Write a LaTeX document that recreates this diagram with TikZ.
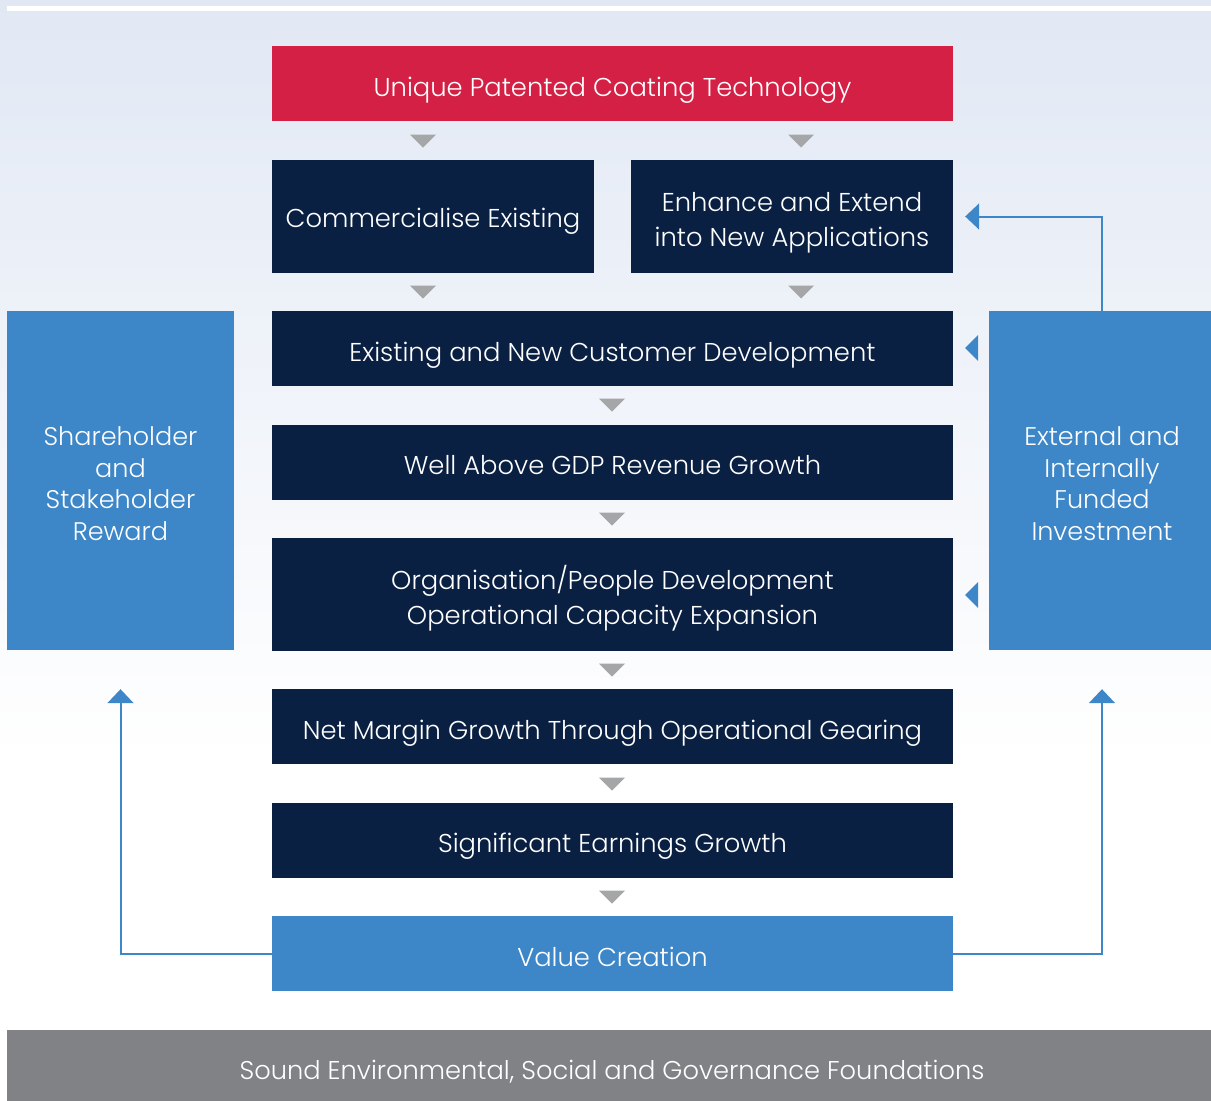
\documentclass[tikz,border=0pt]{standalone}
\usepackage{fontspec}
\setmainfont{Poppins Light}
\usetikzlibrary{arrows.meta,calc}
\definecolor{navy}{HTML}{0A2043}
\definecolor{midblue}{HTML}{3D87C8}
\definecolor{coral}{HTML}{D42045}
\definecolor{footgrey}{HTML}{818286}
\definecolor{tri}{HTML}{A5A6A8}
\definecolor{bgtop}{HTML}{E1E8F4}
\tikzset{
  caption/.style={text=white, inner sep=0pt, align=center,
    font=\fontsize{25.8}{35}\selectfont},
  sidecaption/.style={caption, font=\fontsize{25.5}{31.5}\selectfont},
  box/.style={fill=navy, inner sep=0pt},
  widebox/.style={box, minimum width=681pt, minimum height=75pt},
  halfbox/.style={box, minimum width=322pt, minimum height=113pt},
  sidebox/.style={fill=midblue, inner sep=0pt, minimum height=339pt},
  link/.style={draw=midblue, line width=2pt},
  tip/.style={-{Triangle[width=26pt,length=14pt]}, link},
}
\newcommand\downtri[2]{\fill[tri] (#1-13,#2-6.5) -- (#1+13,#2-6.5) -- (#1,#2+6.5) -- cycle;}
\newcommand\lefttri[2]{\fill[midblue] (#1-6.5,#2) -- (#1+6.5,#2-13) -- (#1+6.5,#2+13) -- cycle;}
\begin{document}
\begin{tikzpicture}[x=1pt,y=-1pt]
  % background with soft top shading
  \useasboundingbox (0,0) rectangle (1211,1101);
  \shade[top color=bgtop, bottom color=white] (0,0) rectangle (1211,760);
  \fill[white] (7,6) rectangle (1211,11);

  % main column
  \node[widebox, fill=coral, label={[caption, yshift=-7pt]center:Unique Patented Coating Technology}] (core) at (612.5,83.5) {};
  \node[halfbox, label={[caption, yshift=-4.5pt]center:Commercialise Existing}] (comm) at (433,216.5) {};
  \node[halfbox, label={[caption, yshift=-6pt]center:{Enhance and Extend\\into New Applications}}] (enh) at (792,216.5) {};
  \node[widebox, label={[caption, yshift=-7pt]center:Existing and New Customer Development}] (cust) at (612.5,348.5) {};
  \node[widebox, label={[caption, yshift=-2.5pt]center:Well Above GDP Revenue Growth}] (rev) at (612.5,462.5) {};
  \node[widebox, minimum height=113pt, label={[caption, yshift=-4pt]center:{Organisation/People Development\\Operational Capacity Expansion}}] (org) at (612.5,594.5) {};
  \node[widebox, label={[caption, yshift=-7pt]center:Net Margin Growth Through Operational Gearing}] (margin) at (612.5,726.5) {};
  \node[widebox, label={[caption, yshift=-5.5pt]center:Significant Earnings Growth}] (earn) at (612.5,840.5) {};
  \node[widebox, fill=midblue, label={[caption, yshift=-3pt]center:Value Creation}] (value) at (612.5,953.5) {};

  % side panels
  \node[sidebox, minimum width=227pt, label={[sidecaption, yshift=-3pt]center:{Shareholder\\and\\Stakeholder\\Reward}}] (share) at (120.5,480.5) {};
  \node[sidebox, minimum width=226pt, label={[sidecaption, yshift=-3pt]center:{External and\\Internally\\Funded\\Investment}}] (invest) at (1102,480.5) {};

  % footer band
  \node[fill=footgrey, inner sep=0pt, minimum width=1210pt, minimum height=71pt,
    label={[caption, font=\fontsize{25.7}{30}\selectfont, yshift=-6pt]center:Sound Environmental, Social and Governance Foundations}] (esg) at (612,1065.5) {};

  % grey flow markers
  \downtri{423}{141}
  \downtri{801}{141}
  \downtri{423}{292}
  \downtri{801}{292}
  \downtri{612}{405}
  \downtri{612}{519}
  \downtri{612}{670}
  \downtri{612}{784}
  \downtri{612}{897}

  % investment feeding the development stages
  \lefttri{971.5}{348}
  \lefttri{971.5}{595}
  \draw[tip] (invest.north) |- ([xshift=12pt]enh.east);

  % value returned to both sides
  \draw[tip] (value.west) -| ([yshift=-39pt]share.south);
  \draw[tip] (value.east) -| ([yshift=-39pt]invest.south);
\end{tikzpicture}
\end{document}
